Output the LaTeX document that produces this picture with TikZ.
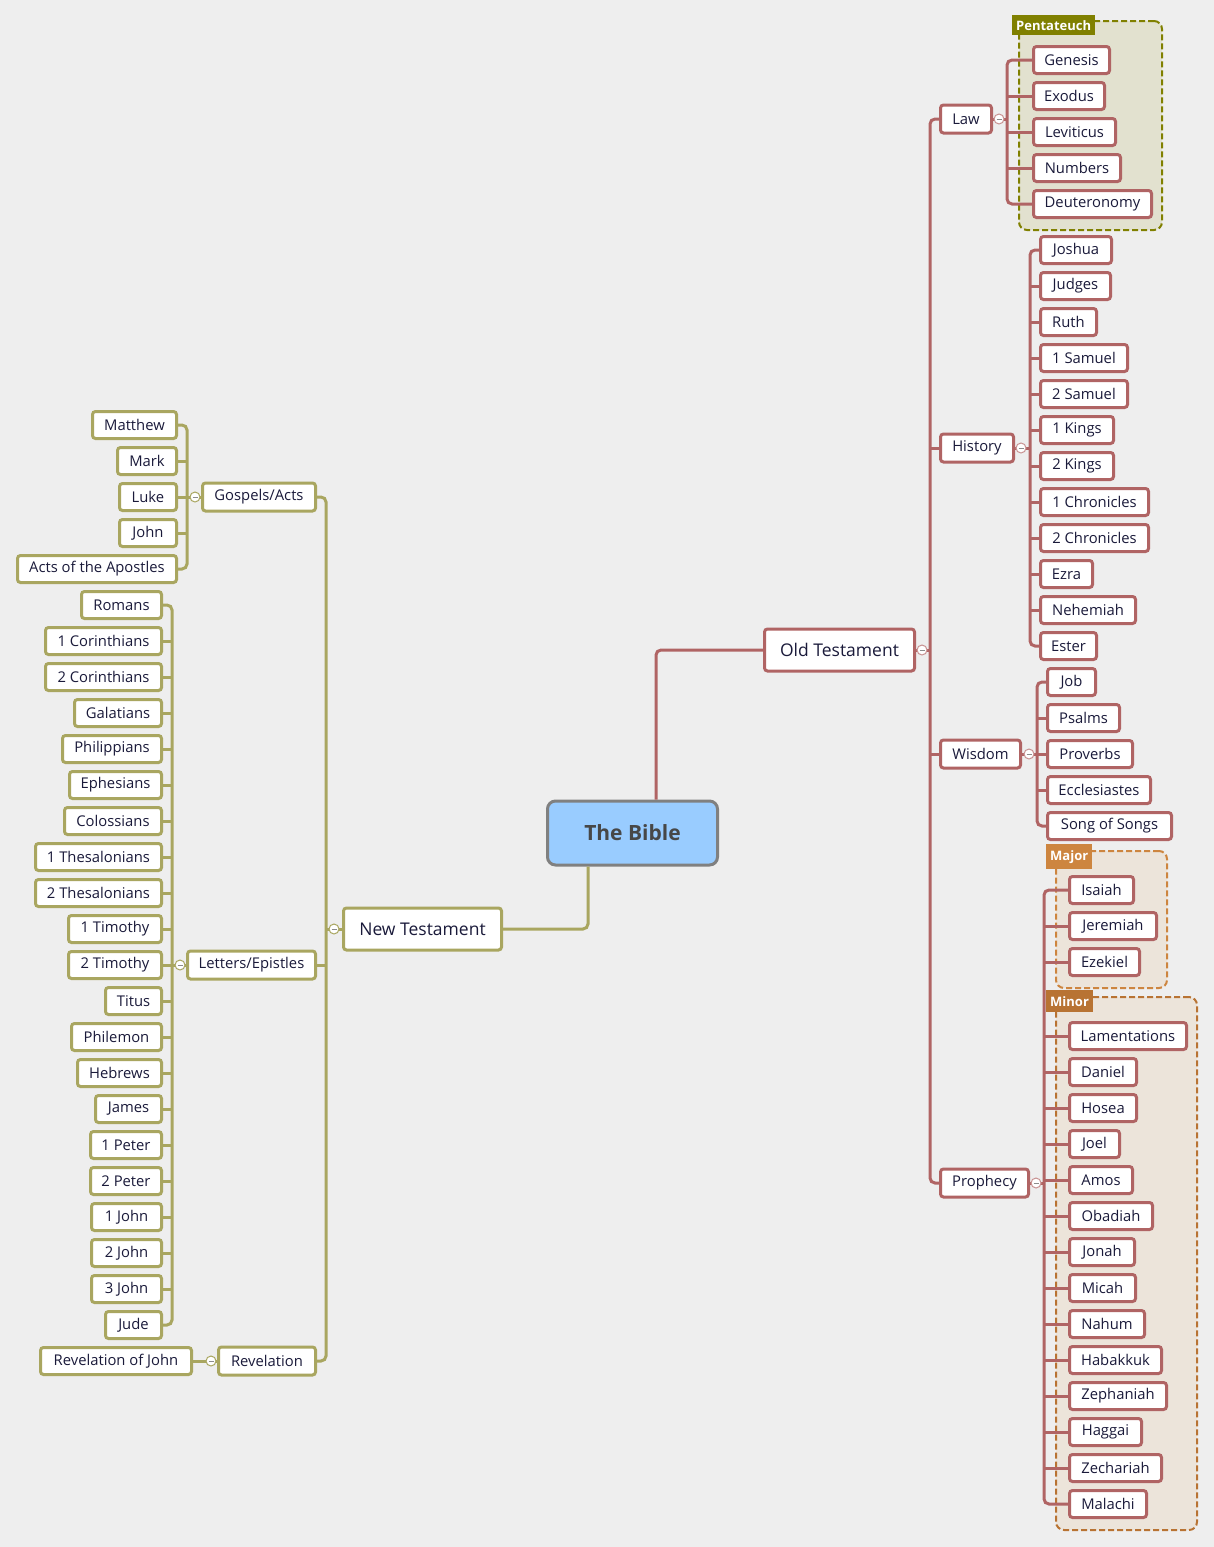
\documentclass[tikz,border=0pt]{standalone}
\usepackage{fontspec}
\setmainfont{Open Sans}
\usetikzlibrary{backgrounds,fit,positioning}

\definecolor{otred}{HTML}{B06464}
\definecolor{ntolive}{HTML}{A9A660}
\definecolor{ink}{HTML}{1A1A3A}
\definecolor{paper}{HTML}{EEEEEE}
\definecolor{pentaolive}{HTML}{808000}
\definecolor{pentafill}{HTML}{E2E1CF}
\definecolor{majorbrown}{HTML}{CD853F}
\definecolor{minorbrown}{HTML}{B87333}
\definecolor{prophfill}{HTML}{ECE4DA}
\definecolor{biblefill}{HTML}{99CCFF}

\newcommand\bookfont{\fontsize{14.8}{17}\selectfont}
\newcommand\testfont{\fontsize{17.5}{20}\selectfont}

\begin{document}
\begin{tikzpicture}
  [x=1pt,y=-1pt,
  book/.style={draw=otred,fill=white,line width=3pt,rounded corners=3pt,text=ink,
    font=\bookfont,minimum height=27pt,inner xsep=4pt,inner ysep=0pt},
  ntbook/.style={book,draw=ntolive},
  wd/.style={minimum width=#1pt},
  topic/.style={book,minimum height=28pt},
  nttopic/.style={topic,draw=ntolive},
  testament/.style={book,minimum height=42pt,font=\testfont},
  otline/.style={draw=otred,line width=3pt,rounded corners=5pt},
  ntline/.style={draw=ntolive,line width=3pt,rounded corners=5pt},
  fold/.style={circle,draw=otred!70,fill=white,line width=1pt,inner sep=0pt,minimum size=10pt,
    path picture={\draw[black!45,line width=.8pt]
      ([xshift=-2.5pt]path picture bounding box.center) -- ([xshift=2.5pt]path picture bounding box.center);}},
  ntfold/.style={fold,draw=ntolive},
  groupbox/.style={draw,dash pattern=on 6pt off 3pt,line width=2pt,rounded corners=8pt,inner sep=0pt},
  tag/.style={anchor=north west,text=white,font=\fontsize{13}{15}\bfseries,inner xsep=4pt,inner ysep=5pt}]

  \useasboundingbox (0,0) rectangle (1214,1547);

  % root
  \node [draw=black!50,fill=biblefill,line width=3pt,rounded corners=8pt,minimum width=170pt,minimum height=64pt,
    text=black!72,font=\fontsize{21}{24}\bfseries] (bible) at (632.5,833) {The Bible};
  \node [testament,wd=150,anchor=west] (ot) at (763,650) {Old Testament};
  \node [testament,wd=158,draw=ntolive,anchor=west] (nt) at (342,929) {New Testament};

  % old testament
  \node [topic,wd=51,anchor=west] (law) at (939,119) {Law};
  \node [topic,wd=73,anchor=west] (history) at (939,448) {History};
  \node [topic,wd=80,anchor=west] (wisdom) at (939,754) {Wisdom};
  \node [topic,wd=88,anchor=west] (prophecy) at (939,1183) {Prophecy};

  \node [book,wd=76,anchor=west] (genesis) at (1032,60) {Genesis};
  \node [book,wd=71,anchor=west] (exodus) at (1032,96) {Exodus};
  \node [book,wd=82,anchor=west] (leviticus) at (1032,132) {Leviticus};
  \node [book,wd=87,anchor=west] (numbers) at (1032,168) {Numbers};
  \node [book,wd=118,anchor=west] (deuteronomy) at (1032,204) {Deuteronomy};

  \node [book,wd=71,anchor=west] (joshua) at (1039,250) {Joshua};
  \node [book,wd=70,anchor=west] (judges) at (1039,286) {Judges};
  \node [book,wd=56,anchor=west] (ruth) at (1039,322) {Ruth};
  \node [book,wd=87,anchor=west] (sam1) at (1039,358) {1 Samuel};
  \node [book,wd=87,anchor=west] (sam2) at (1039,394) {2 Samuel};
  \node [book,wd=73,anchor=west] (kings1) at (1039,430) {1 Kings};
  \node [book,wd=73,anchor=west] (kings2) at (1039,466) {2 Kings};
  \node [book,wd=108,anchor=west] (chr1) at (1039,502) {1 Chronicles};
  \node [book,wd=108,anchor=west] (chr2) at (1039,538) {2 Chronicles};
  \node [book,wd=52,anchor=west] (ezra) at (1039,574) {Ezra};
  \node [book,wd=95,anchor=west] (nehemiah) at (1039,610) {Nehemiah};
  \node [book,wd=56,anchor=west] (ester) at (1039,646) {Ester};

  \node [book,wd=48,anchor=west] (job) at (1046,682) {Job};
  \node [book,wd=72,anchor=west] (psalms) at (1046,718) {Psalms};
  \node [book,wd=85,anchor=west] (proverbs) at (1046,754) {Proverbs};
  \node [book,wd=103,anchor=west] (eccl) at (1046,790) {Ecclesiastes};
  \node [book,wd=124,anchor=west] (song) at (1046,826) {Song of Songs};

  \node [book,wd=64,anchor=west] (isaiah) at (1068,890) {Isaiah};
  \node [book,wd=87,anchor=west] (jeremiah) at (1068,926) {Jeremiah};
  \node [book,wd=70,anchor=west] (ezekiel) at (1068,962) {Ezekiel};
  \node [book,wd=117,anchor=west] (lam) at (1068,1036) {Lamentations};
  \node [book,wd=67,anchor=west] (daniel) at (1068,1072) {Daniel};
  \node [book,wd=67,anchor=west] (hosea) at (1068,1108) {Hosea};
  \node [book,wd=50,anchor=west] (joel) at (1068,1144) {Joel};
  \node [book,wd=63,anchor=west] (amos) at (1068,1180) {Amos};
  \node [book,wd=83,anchor=west] (obadiah) at (1068,1216) {Obadiah};
  \node [book,wd=65,anchor=west] (jonah) at (1068,1252) {Jonah};
  \node [book,wd=66,anchor=west] (micah) at (1068,1288) {Micah};
  \node [book,wd=75,anchor=west] (nahum) at (1068,1324) {Nahum};
  \node [book,wd=92,anchor=west] (habakkuk) at (1068,1360) {Habakkuk};
  \node [book,wd=97,anchor=west] (zeph) at (1068,1396) {Zephaniah};
  \node [book,wd=72,anchor=west] (haggai) at (1068,1432) {Haggai};
  \node [book,wd=92,anchor=west] (zech) at (1068,1468) {Zechariah};
  \node [book,wd=77,anchor=west] (malachi) at (1068,1504) {Malachi};

  % new testament
  \node [nttopic,wd=113,anchor=east] (gospels) at (317,497) {Gospels/Acts};
  \node [nttopic,wd=128,anchor=east] (letters) at (317,965) {Letters/Epistles};
  \node [nttopic,wd=97,anchor=east] (revelation) at (317,1361) {Revelation};

  \node [ntbook,wd=84,anchor=east] (matthew) at (178,425) {Matthew};
  \node [ntbook,wd=59,anchor=east] (mark) at (178,461) {Mark};
  \node [ntbook,wd=57,anchor=east] (luke) at (178,497) {Luke};
  \node [ntbook,wd=57,anchor=east] (john) at (178,533) {John};
  \node [ntbook,wd=159,anchor=east] (acts) at (178,569) {Acts of the Apostles};

  \node [ntbook,wd=80,anchor=east] (romans) at (163,605) {Romans};
  \node [ntbook,wd=116,anchor=east] (cor1) at (163,641) {1 Corinthians};
  \node [ntbook,wd=116,anchor=east] (cor2) at (163,677) {2 Corinthians};
  \node [ntbook,wd=87,anchor=east] (galatians) at (163,713) {Galatians};
  \node [ntbook,wd=99,anchor=east] (philippians) at (163,749) {Philippians};
  \node [ntbook,wd=92,anchor=east] (ephesians) at (163,785) {Ephesians};
  \node [ntbook,wd=97,anchor=east] (colossians) at (163,821) {Colossians};
  \node [ntbook,wd=126,anchor=east] (thes1) at (163,857) {1 Thesalonians};
  \node [ntbook,wd=126,anchor=east] (thes2) at (163,893) {2 Thesalonians};
  \node [ntbook,wd=93,anchor=east] (tim1) at (163,929) {1 Timothy};
  \node [ntbook,wd=93,anchor=east] (tim2) at (163,965) {2 Timothy};
  \node [ntbook,wd=56,anchor=east] (titus) at (163,1001) {Titus};
  \node [ntbook,wd=90,anchor=east] (philemon) at (163,1037) {Philemon};
  \node [ntbook,wd=84,anchor=east] (hebrews) at (163,1073) {Hebrews};
  \node [ntbook,wd=66,anchor=east] (james) at (163,1109) {James};
  \node [ntbook,wd=71,anchor=east] (pet1) at (163,1145) {1 Peter};
  \node [ntbook,wd=71,anchor=east] (pet2) at (163,1181) {2 Peter};
  \node [ntbook,wd=70,anchor=east] (john1) at (163,1217) {1 John};
  \node [ntbook,wd=70,anchor=east] (john2) at (163,1253) {2 John};
  \node [ntbook,wd=70,anchor=east] (john3) at (163,1289) {3 John};
  \node [ntbook,wd=56,anchor=east] (jude) at (163,1325) {Jude};

  \node [ntbook,wd=151,anchor=east] (revjohn) at (193,1361) {Revelation of John};

  % trunks
  \coordinate (otbar) at (930,650);
  \coordinate (lawbar) at (1007,119);
  \coordinate (histbar) at (1030,448);
  \coordinate (wisbar) at (1037,754);
  \coordinate (prophbar) at (1044,1183);
  \coordinate (ntbar) at (326,929);
  \coordinate (gospbar) at (187,497);
  \coordinate (letbar) at (172,965);

  % connectors
  \draw [otline] ([xshift=23.5pt]bible.north) |- (ot.west);
  \draw [ntline] ([xshift=-44.5pt]bible.south) |- (nt.east);

  \draw [otline] (ot.east) -- (otbar);
  \draw [otline] (law.west) -| (otbar) |- (prophecy.west);
  \draw [otline] (history.west) -- (history.west -| otbar);
  \draw [otline] (wisdom.west) -- (wisdom.west -| otbar);

  \draw [otline] (law.east) -- (lawbar);
  \draw [otline] (genesis.west) -| (lawbar) |- (deuteronomy.west);
  \draw [otline] (exodus.west) -- (exodus.west -| lawbar);
  \draw [otline] (leviticus.west) -- (leviticus.west -| lawbar);
  \draw [otline] (numbers.west) -- (numbers.west -| lawbar);

  \draw [otline] (history.east) -- (histbar);
  \draw [otline] (joshua.west) -| (histbar) |- (ester.west);
  \draw [otline] (judges.west) -- (judges.west -| histbar);
  \draw [otline] (ruth.west) -- (ruth.west -| histbar);
  \draw [otline] (sam1.west) -- (sam1.west -| histbar);
  \draw [otline] (sam2.west) -- (sam2.west -| histbar);
  \draw [otline] (kings1.west) -- (kings1.west -| histbar);
  \draw [otline] (kings2.west) -- (kings2.west -| histbar);
  \draw [otline] (chr1.west) -- (chr1.west -| histbar);
  \draw [otline] (chr2.west) -- (chr2.west -| histbar);
  \draw [otline] (ezra.west) -- (ezra.west -| histbar);
  \draw [otline] (nehemiah.west) -- (nehemiah.west -| histbar);

  \draw [otline] (wisdom.east) -- (wisbar);
  \draw [otline] (job.west) -| (wisbar) |- (song.west);
  \draw [otline] (psalms.west) -- (psalms.west -| wisbar);
  \draw [otline] (proverbs.west) -- (proverbs.west -| wisbar);
  \draw [otline] (eccl.west) -- (eccl.west -| wisbar);

  \draw [otline] (prophecy.east) -- (prophbar);
  \draw [otline] (isaiah.west) -| (prophbar) |- (malachi.west);
  \draw [otline] (jeremiah.west) -- (jeremiah.west -| prophbar);
  \draw [otline] (ezekiel.west) -- (ezekiel.west -| prophbar);
  \draw [otline] (lam.west) -- (lam.west -| prophbar);
  \draw [otline] (daniel.west) -- (daniel.west -| prophbar);
  \draw [otline] (hosea.west) -- (hosea.west -| prophbar);
  \draw [otline] (joel.west) -- (joel.west -| prophbar);
  \draw [otline] (amos.west) -- (amos.west -| prophbar);
  \draw [otline] (obadiah.west) -- (obadiah.west -| prophbar);
  \draw [otline] (jonah.west) -- (jonah.west -| prophbar);
  \draw [otline] (micah.west) -- (micah.west -| prophbar);
  \draw [otline] (nahum.west) -- (nahum.west -| prophbar);
  \draw [otline] (habakkuk.west) -- (habakkuk.west -| prophbar);
  \draw [otline] (zeph.west) -- (zeph.west -| prophbar);
  \draw [otline] (haggai.west) -- (haggai.west -| prophbar);
  \draw [otline] (zech.west) -- (zech.west -| prophbar);

  \draw [ntline] (nt.west) -- (ntbar);
  \draw [ntline] (gospels.east) -| (ntbar) |- (revelation.east);
  \draw [ntline] (letters.east) -- (letters.east -| ntbar);

  \draw [ntline] (gospels.west) -- (gospbar);
  \draw [ntline] (matthew.east) -| (gospbar) |- (acts.east);
  \draw [ntline] (mark.east) -- (mark.east -| gospbar);
  \draw [ntline] (luke.east) -- (luke.east -| gospbar);
  \draw [ntline] (john.east) -- (john.east -| gospbar);

  \draw [ntline] (letters.west) -- (letbar);
  \draw [ntline] (romans.east) -| (letbar) |- (jude.east);
  \draw [ntline] (cor1.east) -- (cor1.east -| letbar);
  \draw [ntline] (cor2.east) -- (cor2.east -| letbar);
  \draw [ntline] (galatians.east) -- (galatians.east -| letbar);
  \draw [ntline] (philippians.east) -- (philippians.east -| letbar);
  \draw [ntline] (ephesians.east) -- (ephesians.east -| letbar);
  \draw [ntline] (colossians.east) -- (colossians.east -| letbar);
  \draw [ntline] (thes1.east) -- (thes1.east -| letbar);
  \draw [ntline] (thes2.east) -- (thes2.east -| letbar);
  \draw [ntline] (tim1.east) -- (tim1.east -| letbar);
  \draw [ntline] (tim2.east) -- (tim2.east -| letbar);
  \draw [ntline] (titus.east) -- (titus.east -| letbar);
  \draw [ntline] (philemon.east) -- (philemon.east -| letbar);
  \draw [ntline] (hebrews.east) -- (hebrews.east -| letbar);
  \draw [ntline] (james.east) -- (james.east -| letbar);
  \draw [ntline] (pet1.east) -- (pet1.east -| letbar);
  \draw [ntline] (pet2.east) -- (pet2.east -| letbar);
  \draw [ntline] (john1.east) -- (john1.east -| letbar);
  \draw [ntline] (john2.east) -- (john2.east -| letbar);
  \draw [ntline] (john3.east) -- (john3.east -| letbar);

  \draw [ntline] (revelation.west) -- (revjohn.east);

  % fold markers
  \node [fold] (otfold) at (922,650) {};
  \node [fold] (lawfold) at (999,119) {};
  \node [fold] (histfold) at (1021,448) {};
  \node [fold] (wisfold) at (1029,754) {};
  \node [fold] (prophfold) at (1036,1183) {};
  \node [ntfold] (ntfold) at (334,929) {};
  \node [ntfold] (gospfold) at (195,497) {};
  \node [ntfold] (letfold) at (180,965) {};
  \node [ntfold] (revfold) at (211,1361) {};

  \begin{scope}[on background layer]
    \fill [paper] (0,0) rectangle (1214,1547);
    \node (pentabox) [groupbox,draw=pentaolive,fill=pentafill,fit={(1019,21) (1162,230)}] {};
    \node (majorbox) [groupbox,draw=majorbrown,fill=prophfill,fit={(1056,851) (1167,988)}] {};
    \node (minorbox) [groupbox,draw=minorbrown,fill=prophfill,fit={(1056,997) (1197,1530)}] {};
  \end{scope}
  \node [tag,fill=pentaolive] (pentatag) at ([xshift=-6pt,yshift=5pt]pentabox.north west) {Pentateuch};
  \node [tag,fill=majorbrown,inner ysep=6pt] (majortag) at ([xshift=-9pt,yshift=6pt]majorbox.north west) {Major};
  \node [tag,fill=minorbrown,inner ysep=6pt] (minortag) at ([xshift=-9pt,yshift=6pt]minorbox.north west) {Minor};
\end{tikzpicture}
\end{document}
